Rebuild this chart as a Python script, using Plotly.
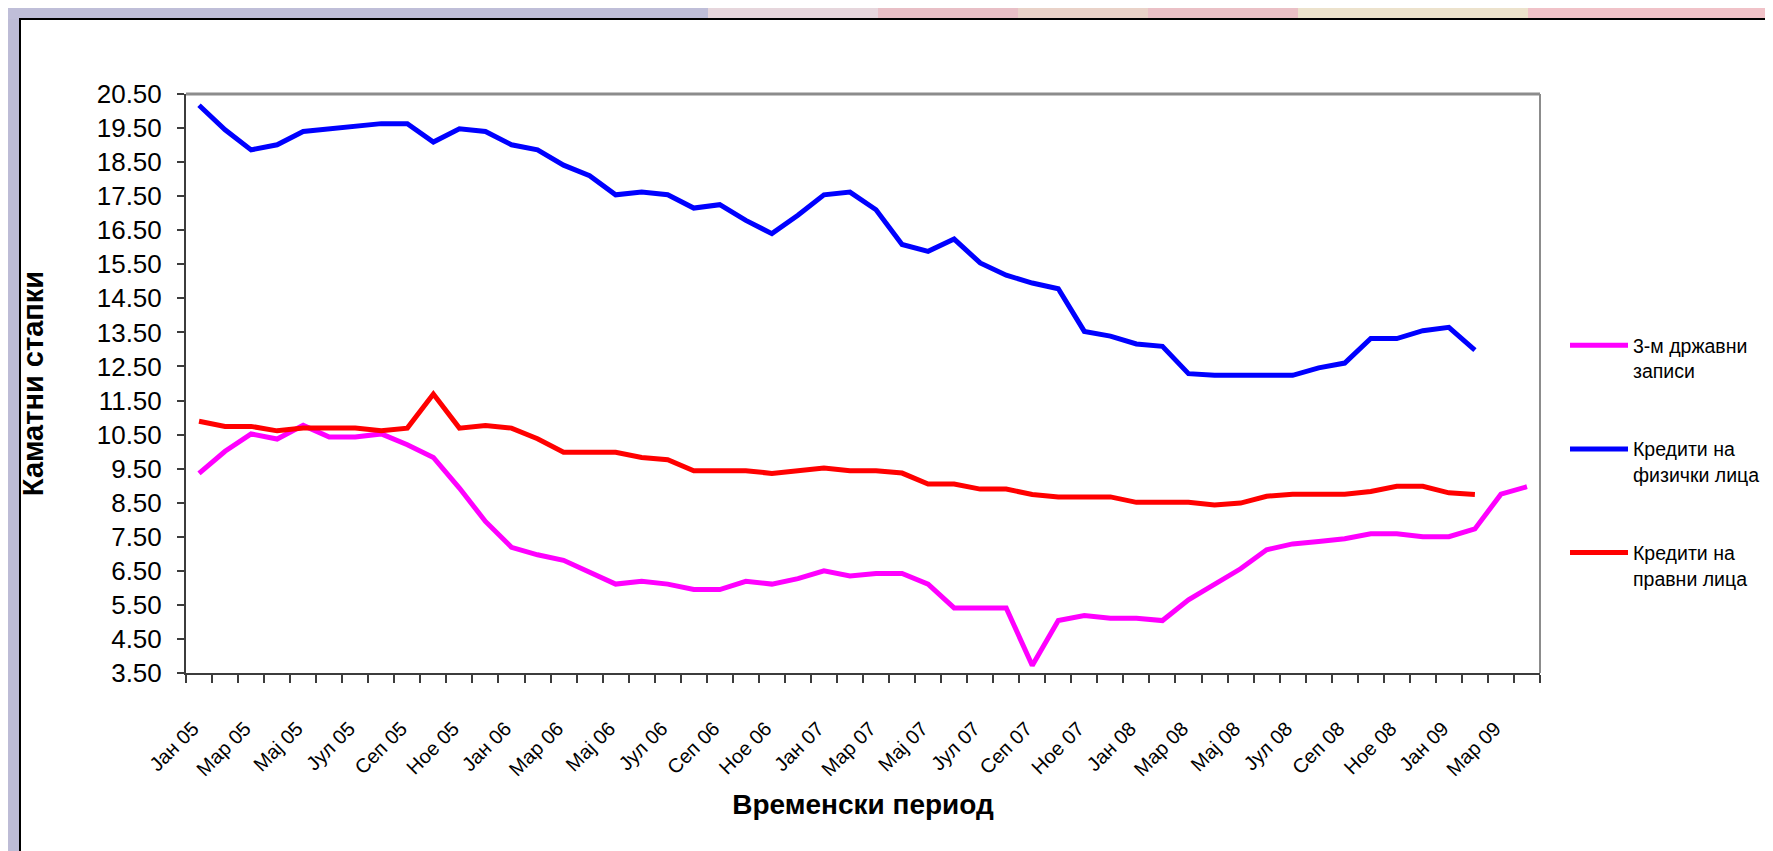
import plotly.graph_objects as go

# ---------------- data ----------------
months = [
    "Јан 05", "Фев 05", "Мар 05", "Апр 05", "Мај 05", "Јун 05", "Јул 05", "Авг 05", "Сеп 05", "Окт 05", "Ное 05", "Дек 05",
    "Јан 06", "Фев 06", "Мар 06", "Апр 06", "Мај 06", "Јун 06", "Јул 06", "Авг 06", "Сеп 06", "Окт 06", "Ное 06", "Дек 06",
    "Јан 07", "Фев 07", "Мар 07", "Апр 07", "Мај 07", "Јун 07", "Јул 07", "Авг 07", "Сеп 07", "Окт 07", "Ное 07", "Дек 07",
    "Јан 08", "Фев 08", "Мар 08", "Апр 08", "Мај 08", "Јун 08", "Јул 08", "Авг 08", "Сеп 08", "Окт 08", "Ное 08", "Дек 08",
    "Јан 09", "Фев 09", "Мар 09", "Апр 09",
]

tbill_3m = [9.36, 10.01, 10.52, 10.37, 10.77, 10.43, 10.43, 10.52, 10.20, 9.83,
            8.93, 7.95, 7.19, 6.97, 6.81, 6.44, 6.11, 6.19, 6.11, 5.95,
            5.95, 6.19, 6.11, 6.27, 6.50, 6.35, 6.42, 6.42, 6.11, 5.41,
            5.41, 5.41, 3.72, 5.04, 5.19, 5.11, 5.11, 5.04, 5.65, 6.11,
            6.56, 7.12, 7.29, 7.36, 7.44, 7.59, 7.59, 7.50, 7.50, 7.73,
            8.75, 8.97]

loans_households = [20.17, 19.45, 18.86, 19.01, 19.40, 19.48, 19.55, 19.63, 19.63, 19.09,
                    19.48, 19.40, 19.01, 18.86, 18.41, 18.10, 17.54, 17.62, 17.54, 17.15,
                    17.25, 16.79, 16.40, 16.94, 17.54, 17.62, 17.10, 16.08, 15.88, 16.24,
                    15.54, 15.18, 14.95, 14.78, 13.53, 13.39, 13.16, 13.09, 12.29, 12.24,
                    12.24, 12.24, 12.24, 12.46, 12.60, 13.32, 13.32, 13.55, 13.65, 12.98,
                    None, None]

loans_corporates = [10.89, 10.74, 10.74, 10.61, 10.69, 10.69, 10.69, 10.61, 10.69, 11.69,
                    10.69, 10.77, 10.69, 10.38, 9.98, 9.98, 9.98, 9.83, 9.76, 9.44,
                    9.44, 9.44, 9.36, 9.44, 9.52, 9.44, 9.44, 9.37, 9.05, 9.05,
                    8.90, 8.90, 8.74, 8.67, 8.67, 8.67, 8.51, 8.51, 8.51, 8.43,
                    8.49, 8.69, 8.75, 8.75, 8.75, 8.83, 8.98, 8.98, 8.79, 8.74,
                    None, None]

series_names = ["3-м државни<br>записи", "Кредити на<br>физички лица", "Кредити на<br>правни лица"]
series_colors = ["#FF00FF", "#0000FF", "#FF0000"]

y_ticks = [3.5 + i for i in range(18)]
x_idx = list(range(len(months)))
tick_pos = x_idx[::2]
tick_text = months[::2]

# ---------------- figure ----------------
W, H = 1773, 851
L, R, T, B = 178, 241, 86, 186
PW, PH = W - L - R, H - T - B

def px_x(p):
    return (p - L) / PW

def px_y(p):
    return (H - B - p) / PH

FONT = "Liberation Sans, Arial, sans-serif"

fig = go.Figure()
for name, vals, col in zip(series_names, [tbill_3m, loans_households, loans_corporates], series_colors):
    fig.add_trace(go.Scatter(
        x=x_idx, y=vals, mode="lines", name=name, legendgroup=name,
        line=dict(color=col, width=5), connectgaps=False,
    ))

shapes = []
# decorative top strip of the slide background
strip = [(0, 700, "#bfbed8"), (700, 870, "#e6d6dc"), (870, 1010, "#e8bfc6"),
         (1010, 1140, "#e9d2c8"), (1140, 1290, "#eac0c6"), (1290, 1520, "#ece2cc"),
         (1520, 1773, "#f0c2c8")]
for a, b, c in strip:
    shapes.append(dict(type="rect", xref="paper", yref="paper", x0=px_x(a), x1=px_x(b),
                       y0=px_y(11), y1=px_y(0), fillcolor=c, line=dict(width=0), layer="below"))
# white chart frame
shapes.append(dict(type="rect", xref="paper", yref="paper", x0=px_x(12), x1=px_x(1771),
                   y0=px_y(853), y1=px_y(11), fillcolor="white",
                   line=dict(color="black", width=2), layer="below"))
# grey top and right border of plot area
shapes.append(dict(type="line", xref="paper", yref="paper", x0=0, x1=1, y0=1, y1=1,
                   line=dict(color="#8c8c8c", width=3)))
shapes.append(dict(type="line", xref="paper", yref="paper", x0=1, x1=1, y0=0, y1=1,
                   line=dict(color="#8c8c8c", width=2)))

fig.update_layout(
    width=W, height=H,
    margin=dict(l=L, r=R, t=T, b=B, autoexpand=False),
    paper_bgcolor="#bdbcd6",
    plot_bgcolor="#FFFFCC",
    font=dict(family=FONT, color="black"),
    shapes=shapes,
    showlegend=True,
    legend=dict(
        x=px_x(1557), y=px_y(318), xanchor="left", yanchor="top",
        bgcolor="rgba(0,0,0,0)", borderwidth=0,
        font=dict(family=FONT, size=19.5, color="black"),
        valign="top", tracegroupgap=50, traceorder="grouped", itemwidth=58,
    ),
    xaxis=dict(
        range=[-0.5, len(months) - 0.5],
        tickmode="array", tickvals=tick_pos, ticktext=tick_text,
        tickangle=-45, ticks="", ticklabelstandoff=34, ticklabelshift=-6,
        tickfont=dict(family=FONT, size=20, color="black"),
        showgrid=False, zeroline=False,
        showline=True, linecolor="#3c3c3c", linewidth=2,
        minor=dict(tickmode="linear", tick0=-0.5, dtick=1, ticks="outside",
                   ticklen=8, tickwidth=1.5, tickcolor="#3c3c3c", showgrid=False),
        title=dict(text="<b>Временски период</b>", standoff=15,
                   font=dict(family=FONT, size=28, color="black")),
    ),
    yaxis=dict(
        range=[3.5, 20.5], tickmode="array", tickvals=y_ticks, tickformat=".2f",
        ticks="outside", ticklen=7, tickwidth=1.5, tickcolor="#3c3c3c",
        ticklabelstandoff=10,
        tickfont=dict(family=FONT, size=26, color="black"),
        showgrid=False, zeroline=False,
        showline=True, linecolor="#3c3c3c", linewidth=2,
        title=dict(text="<b>Каматни стапки</b>", standoff=45,
                   font=dict(family=FONT, size=29, color="black")),
    ),
)

fig.write_html("out.html")
